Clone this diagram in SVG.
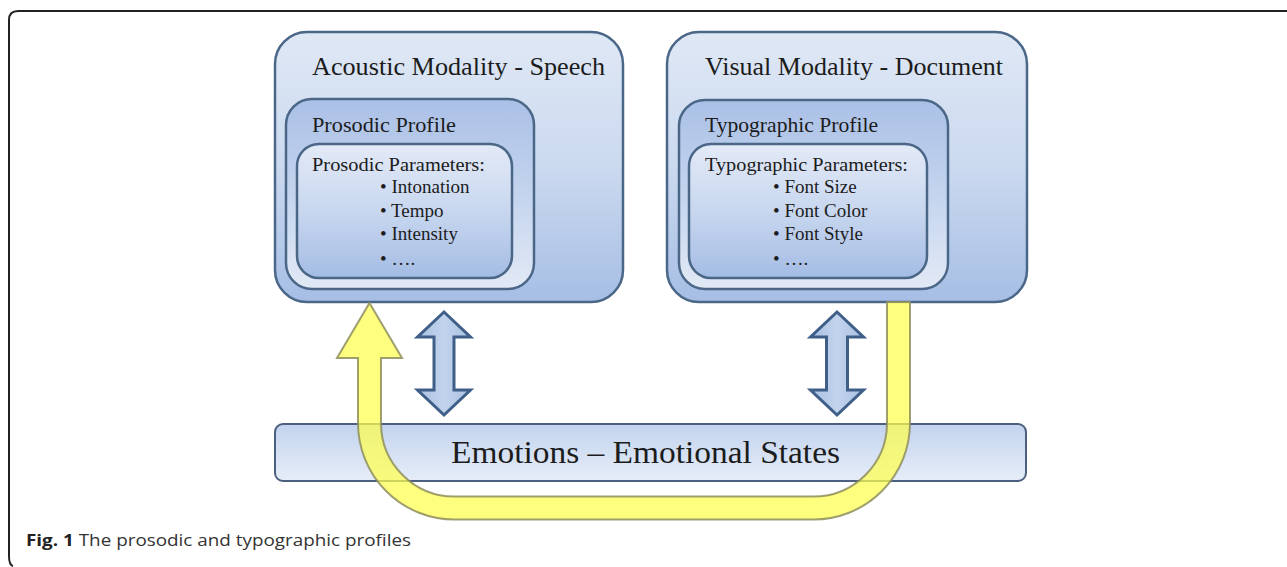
<svg xmlns="http://www.w3.org/2000/svg" width="1287" height="567" viewBox="0 0 1287 567">
<style>
.serif{font-family:"Liberation Serif","Times New Roman",serif;fill:#1c1c1c}
.outer{fill:url(#gOuter);stroke:#4b6788;stroke-width:2.5}
.mid{fill:url(#gMid);stroke:#4b6788;stroke-width:2.5}
.inner{fill:url(#gInner);stroke:#4b6788;stroke-width:2.5}
.dbl{fill:url(#gArrow);stroke:#3f5f88;stroke-width:3;stroke-linejoin:miter}
.t1{font-size:26px}
.t2{font-size:21px}
.t3{font-size:19px}
</style>
<defs>
<linearGradient id="gOuter" x1="0" y1="0" x2="0" y2="1">
<stop offset="0" stop-color="#dfe8f5"/>
<stop offset="0.5" stop-color="#cbd9ef"/>
<stop offset="1" stop-color="#a6bee5"/>
</linearGradient>
<linearGradient id="gMid" x1="0" y1="0" x2="0" y2="1">
<stop offset="0" stop-color="#aac0e6"/>
<stop offset="0.5" stop-color="#c4d4ee"/>
<stop offset="1" stop-color="#e2e9f5"/>
</linearGradient>
<linearGradient id="gInner" x1="0" y1="0" x2="0" y2="1">
<stop offset="0" stop-color="#e3eaf7"/>
<stop offset="0.5" stop-color="#c8d7ef"/>
<stop offset="1" stop-color="#a4bce4"/>
</linearGradient>
<linearGradient id="gBar" x1="0" y1="0" x2="0" y2="1">
<stop offset="0" stop-color="#c3d3ee"/>
<stop offset="0.5" stop-color="#d4e0f3"/>
<stop offset="1" stop-color="#e6edf8"/>
</linearGradient>
<linearGradient id="gArrow" x1="0" y1="0" x2="1" y2="0">
<stop offset="0" stop-color="#a9c1e3"/>
<stop offset="0.5" stop-color="#c2d3ec"/>
<stop offset="1" stop-color="#a9c1e3"/>
</linearGradient>
</defs>
<rect width="1287" height="567" fill="#ffffff"/>
<!-- figure frame -->
<path d="M1287 11 H18 Q9 11 9 20 V556 Q9 565 13 566" fill="none" stroke="#222" stroke-width="2"/>

<g id="acoustic">
<rect class="outer" x="275" y="32" width="348" height="270" rx="32" ry="32"/>
<text class="serif t1" x="312" y="75" textLength="293" lengthAdjust="spacingAndGlyphs">Acoustic Modality  - Speech</text>
<g id="prosodic-profile">
<rect class="mid" x="286" y="99" width="248" height="190" rx="26" ry="26"/>
<text class="serif t2" x="312" y="132" textLength="144" lengthAdjust="spacingAndGlyphs">Prosodic  Profile</text>
<g id="prosodic-parameters">
<rect class="inner" x="297" y="144" width="215" height="134" rx="22" ry="22"/>
<text class="serif t3" x="312" y="171" textLength="173" lengthAdjust="spacingAndGlyphs">Prosodic  Parameters:</text>
<text class="serif t3" x="380" y="193">• Intonation</text>
<text class="serif t3" x="380" y="217">• Tempo</text>
<text class="serif t3" x="380" y="240">• Intensity</text>
<text class="serif t3" x="380" y="265">• ….</text>
</g>
</g>
</g>

<g id="visual">
<rect class="outer" x="667" y="32" width="360" height="270" rx="32" ry="32"/>
<text class="serif t1" x="705" y="75" textLength="298" lengthAdjust="spacingAndGlyphs">Visual Modality  - Document</text>
<g id="typographic-profile">
<rect class="mid" x="679" y="100" width="269" height="189" rx="26" ry="26"/>
<text class="serif t2" x="705" y="132" textLength="173" lengthAdjust="spacingAndGlyphs">Typographic  Profile</text>
<g id="typographic-parameters">
<rect class="inner" x="689" y="144" width="238" height="134" rx="22" ry="22"/>
<text class="serif t3" x="705" y="171" textLength="203" lengthAdjust="spacingAndGlyphs">Typographic  Parameters:</text>
<text class="serif t3" x="773" y="193">• Font Size</text>
<text class="serif t3" x="773" y="217">• Font Color</text>
<text class="serif t3" x="773" y="240">• Font Style</text>
<text class="serif t3" x="773" y="265">• ….</text>
</g>
</g>
</g>

<g id="emotions">
<rect x="275" y="424" width="751" height="57" rx="8" ry="8" fill="url(#gBar)" stroke="#4b5f7e" stroke-width="2"/>
<text class="serif" x="451" y="463" font-size="32" textLength="389" lengthAdjust="spacingAndGlyphs">Emotions – Emotional States</text>
</g>

<g id="connectors">
<polygon class="dbl" points="444,312 470.5,337 454,337 454,390 470.5,390 444,415 417.5,390 434,390 434,337 417.5,337"/>
<polygon class="dbl" points="837,312 863.5,337 847.5,337 847.5,390 863.5,390 837,415 810.5,390 826.5,390 826.5,337 810.5,337"/>
<path d="M369.5 303 L402 358 H381 V423 A73.5 73.5 0 0 0 454.5 496.5 H813.5 A73.5 73.5 0 0 0 887 423 V302 H910 V423 A96.5 96.5 0 0 1 813.5 519.5 H454.5 A96.5 96.5 0 0 1 358 423 V358 H337 Z" fill="#ffff4d" fill-opacity="0.72" stroke="#8e8e5e" stroke-opacity="0.85" stroke-width="2"/>
</g>

<text x="26" y="546" font-family="'Open Sans','Liberation Sans',sans-serif" font-size="15.5" fill="#333" textLength="385" lengthAdjust="spacingAndGlyphs"><tspan font-weight="bold" fill="#222">Fig. 1</tspan> The prosodic and typographic profiles</text>
</svg>
